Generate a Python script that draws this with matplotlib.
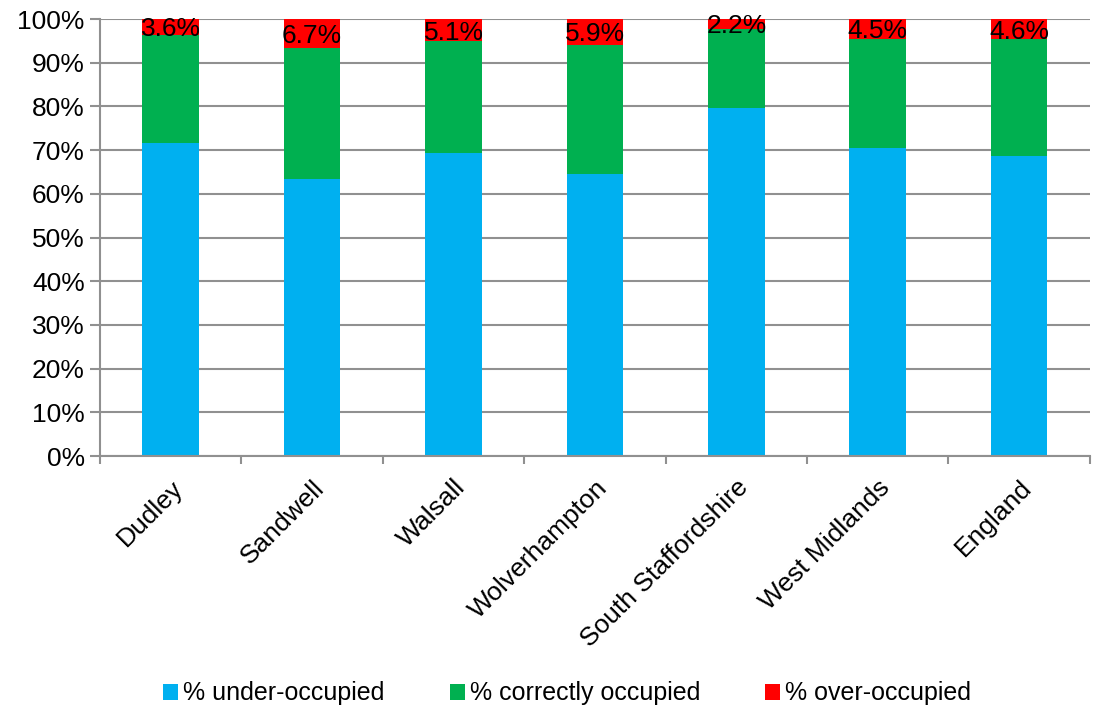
import matplotlib.pyplot as plt
import numpy as np

plt.rcParams['font.family'] = ['Liberation Sans', 'DejaVu Sans']

areas = ['Dudley', 'Sandwell', 'Walsall', 'Wolverhampton', 'South Staffordshire',
         'West Midlands', 'England']
under = [71.6, 63.3, 69.3, 64.5, 79.6, 70.4, 68.7]
over = [3.6, 6.7, 5.1, 5.9, 2.2, 4.5, 4.6]
correct = [round(100 - u - o, 1) for u, o in zip(under, over)]

blue = '#00b0f0'
green = '#00b050'
red = '#ff0000'
grey = '#909090'

fig = plt.figure(figsize=(11.01, 7.09), dpi=100)
ax = fig.add_axes([0.0908, 0.3568, 0.899, 0.6164])

x = np.arange(len(areas))
w = 0.4
ax.bar(x, under, w, color=blue, label='% under-occupied', zorder=2)
ax.bar(x, correct, w, bottom=under, color=green, label='% correctly occupied', zorder=2)
bot2 = [u + c for u, c in zip(under, correct)]
ax.bar(x, over, w, bottom=bot2, color=red, label='% over-occupied', zorder=2)

for xi, b, o in zip(x, bot2, over):
    ax.text(xi, b + o / 2, f'{o:.1f}%', ha='center', va='center_baseline',
            fontsize=19, zorder=3)

ax.set_xlim(-0.5, len(areas) - 0.5)
ax.set_ylim(0, 100)
ax.set_yticks(np.arange(0, 101, 10))
ax.set_yticklabels([f'{v}%' for v in range(0, 101, 10)], fontsize=19)
ax.yaxis.grid(True, color=grey, linewidth=1.5, zorder=0)

# category ticks sit between the bars
ax.set_xticks(np.arange(-0.5, len(areas), 1))
ax.set_xticklabels([])
ax.set_xticks(x, minor=True)
ax.set_xticklabels(areas, minor=True, rotation=45, ha='right', va='top',
                   rotation_mode='anchor', fontsize=19)
ax.tick_params(axis='x', which='minor', length=0, pad=14)
ax.tick_params(axis='x', which='major', length=6, color=grey, width=1.5)
ax.tick_params(axis='y', length=7, color=grey, width=1.5, pad=4)

for s in ['top', 'right']:
    ax.spines[s].set_visible(False)
for s in ['left', 'bottom']:
    ax.spines[s].set_color(grey)
    ax.spines[s].set_linewidth(1.5)

fig.legend(loc='center', bbox_to_anchor=(0.515, 0.022), ncol=3, frameon=False,
           fontsize=18, handlelength=0.6, handleheight=0.6, handletextpad=0.2,
           columnspacing=2.6)

fig.savefig('out.png', dpi=100)
